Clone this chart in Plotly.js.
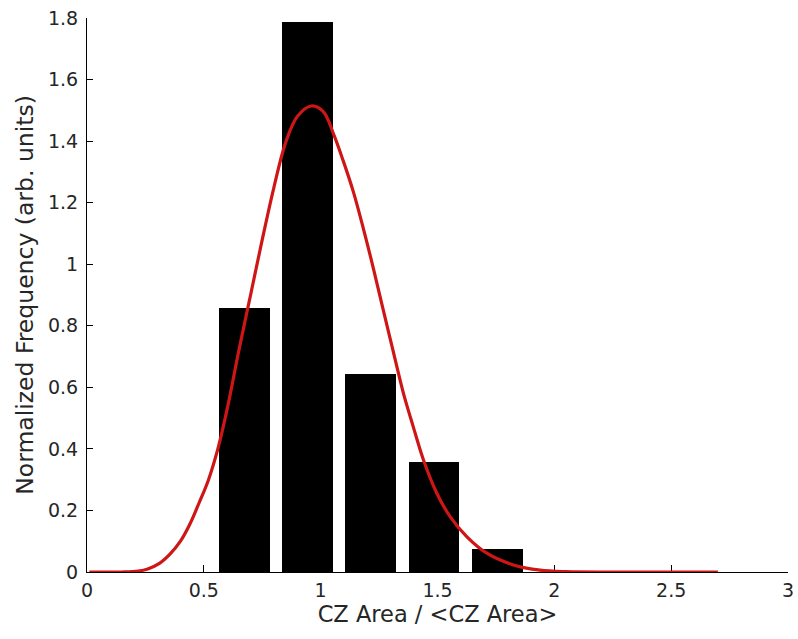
<!DOCTYPE html>
<html>
<head>
<meta charset="utf-8">
<script src="https://cdn.plot.ly/plotly-3.0.1.min.js"></script>
<style>
html,body{margin:0;padding:0;background:#fff;}
#chart{width:798px;height:639px;}
</style>
</head>
<body>
<div id="chart"></div>
<script>
// Histogram bins (bin centres) and normalized frequencies
var binCenters = [0.673, 0.944, 1.215, 1.485, 1.756];
var binFreq = [0.859, 1.788, 0.643, 0.358, 0.076];

// Fitted distribution curve
var fitX = [0.01, 0.15, 0.22, 0.26, 0.31, 0.355, 0.40, 0.44, 0.48, 0.52, 0.56, 0.60, 0.65, 0.70, 0.75, 0.80, 0.85, 0.90, 0.96, 1.012, 1.054, 1.097, 1.14, 1.183, 1.226, 1.268, 1.311, 1.354, 1.397, 1.44, 1.497, 1.554, 1.625, 1.711, 1.825, 1.939, 2.05, 2.3, 2.7];
var fitY = [0, 0, 0.003, 0.01, 0.028, 0.058, 0.10, 0.155, 0.225, 0.30, 0.40, 0.53, 0.72, 0.90, 1.08, 1.25, 1.395, 1.48, 1.514, 1.495, 1.425, 1.335, 1.235, 1.115, 0.985, 0.851, 0.715, 0.581, 0.47, 0.364, 0.256, 0.18, 0.115, 0.061, 0.023, 0.006, 0.001, 0, 0];

var xTicks = [0, 0.5, 1, 1.5, 2, 2.5, 3];
var xTickText = ['0', '0.5', '1', '1.5', '2', '2.5', '3'];
var yTicks = [0, 0.2, 0.4, 0.6, 0.8, 1, 1.2, 1.4, 1.6, 1.8];
var yTickText = ['0', '0.2', '0.4', '0.6', '0.8', '1', '1.2', '1.4', '1.6', '1.8'];

var traces = [
  {
    type: 'bar',
    x: binCenters,
    y: binFreq,
    width: 0.218,
    marker: {color: '#000000', line: {width: 0}},
    hoverinfo: 'x+y'
  },
  {
    type: 'scatter',
    mode: 'lines',
    x: fitX,
    y: fitY,
    cliponaxis: false,
    line: {color: 'rgb(206,22,22)', width: 3.2, shape: 'spline', smoothing: 1},
    hoverinfo: 'x+y'
  }
];

var FAM = 'DejaVu Sans, Liberation Sans, Arial, sans-serif';

var layout = {
  width: 798,
  height: 639,
  margin: {l: 87, r: 10, t: 18, b: 67},
  paper_bgcolor: '#ffffff',
  plot_bgcolor: '#ffffff',
  showlegend: false,
  bargap: 0,
  font: {family: FAM, color: '#262626'},
  xaxis: {
    range: [0, 3],
    tickvals: xTicks,
    ticktext: xTickText,
    ticks: 'inside',
    ticklen: 7,
    tickwidth: 1,
    tickcolor: '#000',
    showline: true,
    linecolor: '#000',
    linewidth: 1,
    showgrid: false,
    zeroline: false,
    layer: 'below traces',
    ticklabelstandoff: 1,
    tickfont: {family: FAM, size: 19, color: '#262626'},
    title: {text: 'CZ Area / &lt;CZ Area&gt;', font: {family: FAM, size: 22.5, color: '#262626'}, standoff: 3}
  },
  yaxis: {
    range: [0, 1.8],
    tickvals: yTicks,
    ticktext: yTickText,
    ticks: 'inside',
    ticklen: 6,
    tickwidth: 1,
    tickcolor: '#000',
    showline: true,
    linecolor: '#000',
    linewidth: 1,
    showgrid: false,
    zeroline: false,
    layer: 'below traces',
    ticklabelstandoff: 4,
    tickfont: {family: FAM, size: 19, color: '#262626'},
    title: {text: 'Normalized Frequency (arb. units)', font: {family: FAM, size: 23.5, color: '#262626'}, standoff: 7}
  }
};

Plotly.newPlot('chart', traces, layout, {staticPlot: true, displayModeBar: false});
</script>
</body>
</html>
